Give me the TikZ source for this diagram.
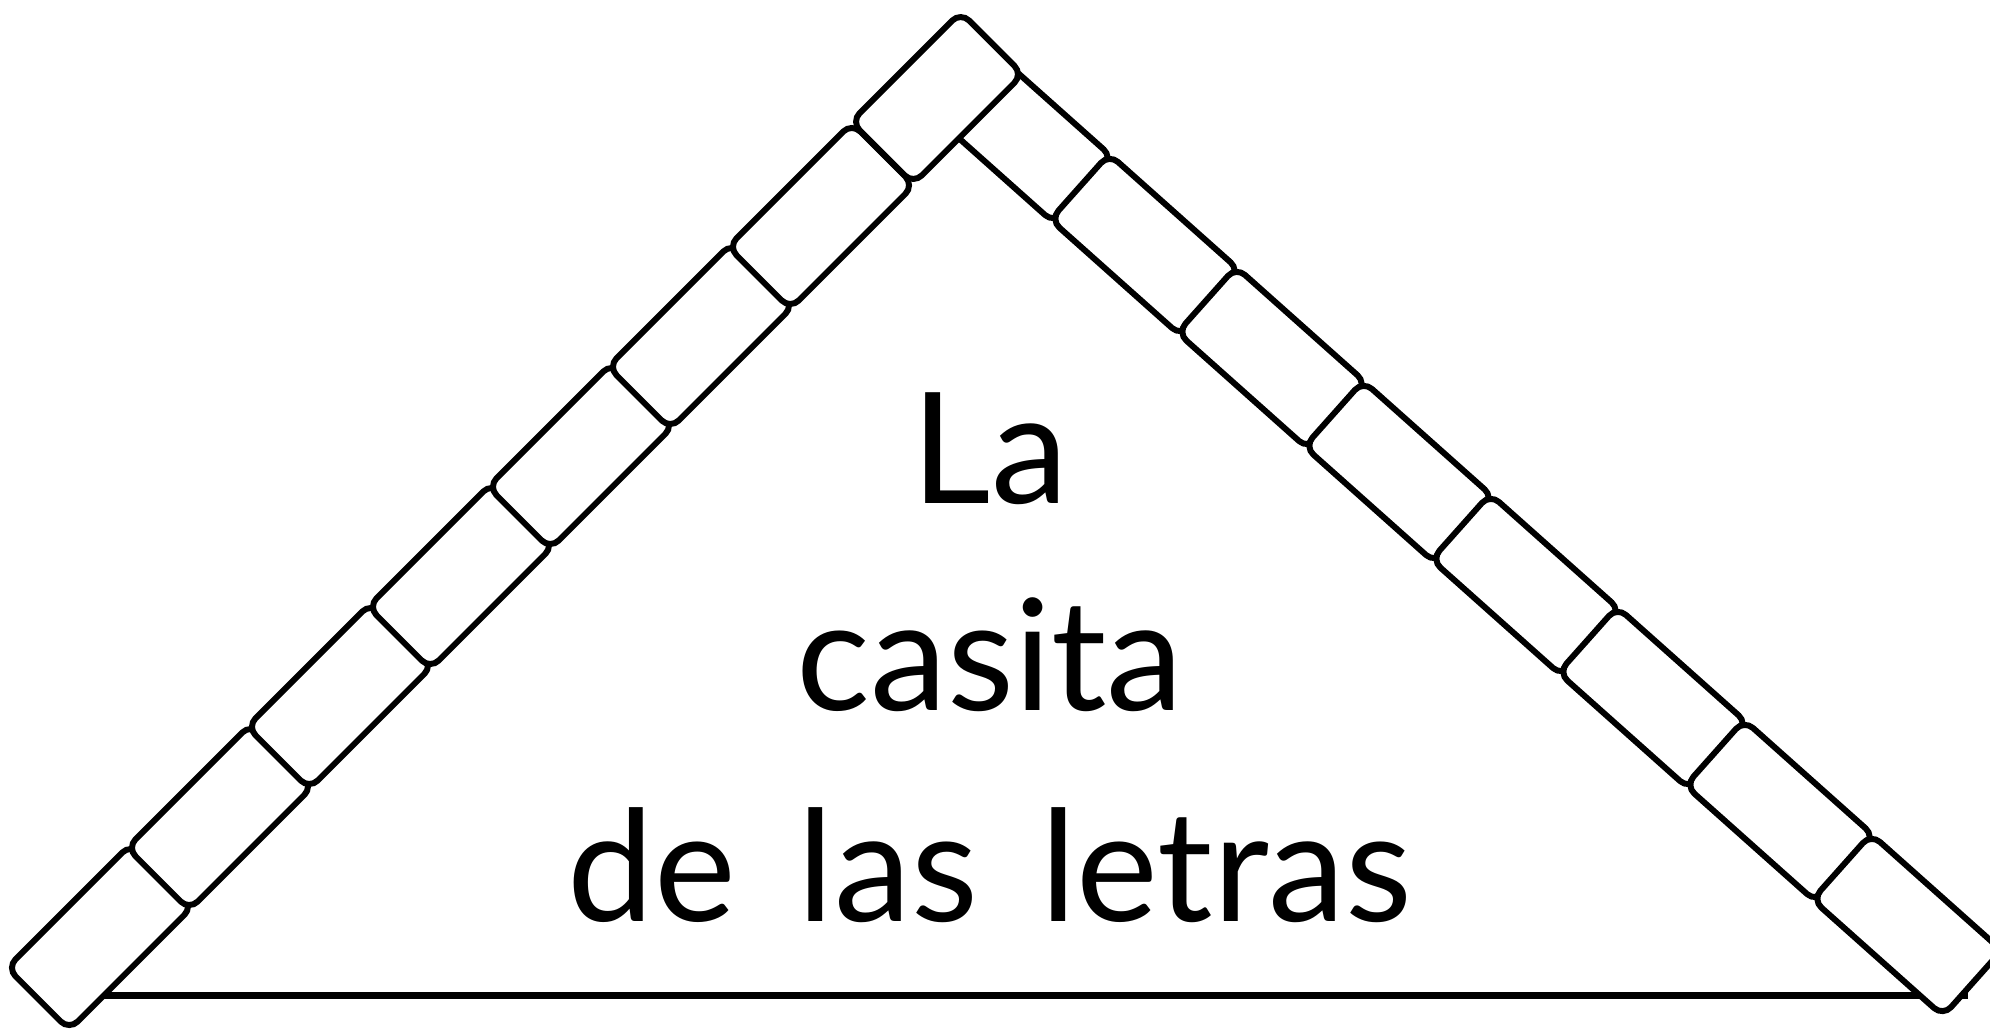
\documentclass[tikz,border=0pt]{standalone}
\usepackage{fontspec}
\setmainfont{Lato}
\tikzset{
  brick/.style={rectangle,rounded corners=0.12cm,draw=linecolor,fill=fillcolor,
    line width=1.7pt,minimum width=1.75cm,minimum height=0.88cm,inner sep=0pt},
  floor/.style={draw=linecolor,line width=2pt},
  lettering/.style={anchor=base,font=\fontsize{44}{50}\selectfont,text=linecolor},
}
\begin{document}
\begin{tikzpicture}
\definecolor{linecolor}{RGB}{0,0,0}
\definecolor{fillcolor}{RGB}{255,255,255}
\useasboundingbox (0,0) rectangle (19.90,10.32);
\coordinate (floor-l) at (1.00,0.37);
\coordinate (floor-r) at (19.68,0.37);
\draw [floor] (floor-l) -- (floor-r);
% right side of the roof
\node [brick,rotate=-41.7] (r1) at (10.18,9.00) {};
\node [brick,rotate=-41.7] (r2) at (11.45,7.87) {};
\node [brick,rotate=-41.7] (r3) at (12.72,6.74) {};
\node [brick,rotate=-41.7] (r4) at (13.99,5.60) {};
\node [brick,rotate=-41.7] (r5) at (15.26,4.47) {};
\node [brick,rotate=-41.7] (r6) at (16.53,3.34) {};
\node [brick,rotate=-41.7] (r7) at (17.80,2.21) {};
\node [brick,rotate=-41.7] (r8) at (19.07,1.07) {};
% left side of the roof
\node [brick,rotate=45] (l1) at (1.00,0.95) {};
\node [brick,rotate=45] (l2) at (2.20,2.15) {};
\node [brick,rotate=45] (l3) at (3.40,3.36) {};
\node [brick,rotate=45] (l4) at (4.61,4.56) {};
\node [brick,rotate=45] (l5) at (5.81,5.76) {};
\node [brick,rotate=45] (l6) at (7.01,6.96) {};
\node [brick,rotate=45] (l7) at (8.21,8.16) {};
\node [brick,rotate=45,minimum width=1.55cm] (l8) at (9.37,9.34) {};
% title
\node [lettering] (la) at (9.90,5.29) {La};
\node [lettering] (casita) at (9.90,3.22) {casita};
\node [lettering] (letras) at (9.90,1.11) {\spaceskip=0.4em de las letras};
\end{tikzpicture}
\end{document}
